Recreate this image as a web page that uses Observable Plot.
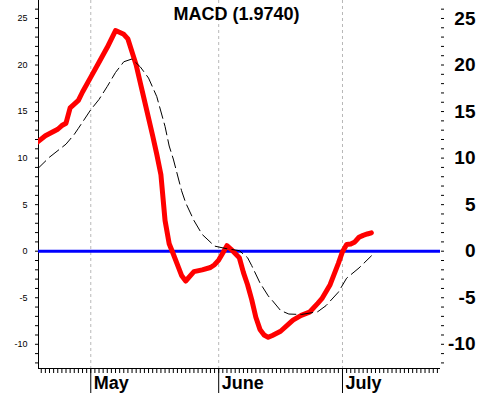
<!DOCTYPE html>
<html>
<head>
<meta charset="utf-8">
<script src="https://cdn.jsdelivr.net/npm/d3@7"></script>
<script src="https://cdn.jsdelivr.net/npm/@observablehq/plot@0.6"></script>
<style>
  html, body { margin: 0; padding: 0; background: #fff; }
  #chart svg { display: block; }
</style>
</head>
<body>
<div id="chart"></div>
<script>
// ---- Data ----
const titleText = "MACD (1.9740)";

const macdDates = [
  "2010-04-18","2010-04-20","2010-04-23","2010-04-24","2010-04-25","2010-04-26","2010-04-28","2010-04-29",
  "2010-05-01","2010-05-03","2010-05-05","2010-05-07","2010-05-09","2010-05-10","2010-05-11","2010-05-12",
  "2010-05-13","2010-05-14","2010-05-16","2010-05-17","2010-05-18","2010-05-19","2010-05-20","2010-05-21",
  "2010-05-23","2010-05-24","2010-05-26","2010-05-28","2010-05-30","2010-05-31",
  "2010-06-01","2010-06-02","2010-06-03","2010-06-04","2010-06-05","2010-06-06","2010-06-07","2010-06-08",
  "2010-06-09","2010-06-10","2010-06-11","2010-06-12","2010-06-13","2010-06-14","2010-06-16","2010-06-19",
  "2010-06-21","2010-06-23","2010-06-25","2010-06-26","2010-06-28","2010-06-30",
  "2010-07-01","2010-07-02","2010-07-03","2010-07-04","2010-07-05","2010-07-06","2010-07-07","2010-07-08"
];
const macdValues = [
  11.7, 12.4, 13.1, 13.5, 13.75, 15.4, 16.2, 17.1,
  18.7, 20.3, 21.9, 23.7, 23.3, 22.8, 21.4, 20.0,
  18.1, 16.2, 12.4, 10.4, 8.2, 3.3, 0.8, -0.3,
  -2.6, -3.2, -2.2, -2.0, -1.75, -1.45,
  -0.95, -0.2, 0.6, 0.2, -0.25, -0.7, -2.3, -3.6,
  -5.2, -7.1, -8.4, -9.0, -9.25, -9.05, -8.6, -7.4,
  -6.9, -6.55, -5.6, -5.1, -3.6, -1.3,
  -0.05, 0.72, 0.78, 1.0, 1.5, 1.7, 1.85, 1.974
];

const signalDates = [
  "2010-04-18","2010-04-21","2010-04-25","2010-04-27","2010-04-28",
  "2010-05-01","2010-05-03","2010-05-05","2010-05-07","2010-05-09","2010-05-11","2010-05-13","2010-05-15",
  "2010-05-17","2010-05-19","2010-05-20","2010-05-21","2010-05-23","2010-05-24","2010-05-26","2010-05-28",
  "2010-05-31","2010-06-03","2010-06-06","2010-06-08","2010-06-09","2010-06-11","2010-06-13","2010-06-14",
  "2010-06-16","2010-06-18","2010-06-21","2010-06-25","2010-06-27","2010-06-30",
  "2010-07-02","2010-07-05","2010-07-08"
];
const signalValues = [
  8.8, 10.1, 11.5, 12.55, 13.2,
  15.2, 16.3, 17.7, 19.2, 20.35, 20.65, 19.8, 18.6,
  16.6, 13.4, 11.3, 9.9, 6.5, 5.2, 3.3, 1.8,
  0.55, 0.26, 0.06, -0.7, -1.55, -3.4, -4.8, -5.3,
  -6.37, -6.75, -6.8, -6.5, -5.85, -4.4,
  -2.9, -1.8, -0.5
];

const monthDates = ["2010-05-01", "2010-06-01", "2010-07-01"];
const monthLabels = ["May", "June", "July"];
const yTickLabels = [-10, -5, 0, 5, 10, 15, 20, 25];

// ---- Build tables ----
const parse = s => new Date(s + "T00:00:00Z");
const macd = macdDates.map((d, i) => ({date: parse(d), value: macdValues[i]}));
const signal = signalDates.map((d, i) => ({date: parse(d), value: signalValues[i]}));
const months = monthDates.map((d, i) => ({date: parse(d), label: monthLabels[i]}));

const xDomain = [new Date(Date.UTC(2010, 3, 18, 8)), new Date(Date.UTC(2010, 6, 24, 18))];
const yDomain = [-12.6, 26.93];
const dayTicks = d3.utcDay.range(d3.utcDay.ceil(xDomain[0]), xDomain[1]);
const yMinorTicks = d3.range(-12, 27);
const labelSet = new Set(yTickLabels);

const chart = Plot.plot({
  width: 478,
  height: 393,
  marginLeft: 38,
  marginRight: 38,
  marginTop: 0,
  marginBottom: 25,
  style: {fontFamily: "'Liberation Sans', Arial, sans-serif", background: "#fff", overflow: "visible"},
  x: {type: "utc", domain: xDomain, label: null},
  y: {domain: yDomain, label: null},
  marks: [
    Plot.gridX(months, {x: "date", stroke: "#b8b8b8", strokeOpacity: 1, strokeDasharray: "3,3"}),
    // left axis
    Plot.axisY(yMinorTicks, {anchor: "left", label: null, tickSize: 3, tickPadding: 8, fontSize: 9,
      tickFormat: d => labelSet.has(d) ? String(d) : ""}),
    Plot.ruleX([xDomain[0]], {stroke: "#000"}),
    // right axis
    Plot.axisY(yMinorTicks, {anchor: "right", label: null, tickSize: 3, tickPadding: 32, textAnchor: "end",
      fontSize: 19, fontWeight: "bold", tickFormat: d => labelSet.has(d) ? String(d) : ""}),
    // bottom axis
    Plot.ruleY([yDomain[0]], {stroke: "#000"}),
    Plot.axisX(dayTicks, {anchor: "bottom", label: null, tickSize: 5, tickFormat: () => ""}),
    Plot.axisX(months.map(d => d.date), {anchor: "bottom", label: null, tickSize: 25, tickFormat: () => ""}),
    Plot.text(months, {x: "date", text: "label", frameAnchor: "bottom", textAnchor: "start",
      lineAnchor: "middle", dx: 3, dy: 14.5, fontSize: 18, fontWeight: "bold", fill: "#000"}),
    // zero line
    Plot.ruleY([0], {stroke: "#0000ff", strokeWidth: 3}),
    // MACD
    Plot.line(macd, {x: "date", y: "value", stroke: "#ff0000", strokeWidth: 5,
      strokeLinejoin: "round", clip: true}),
    // signal
    Plot.line(signal, {x: "date", y: "value", stroke: "#000", strokeWidth: 1,
      strokeDasharray: "12,5", clip: true}),
    // title
    Plot.text([titleText], {text: d => d, frameAnchor: "top", lineAnchor: "top", dx: -3, dy: 7,
      fontSize: 18, fontWeight: "bold", fill: "#000"})
  ]
});
document.getElementById("chart").appendChild(chart);
</script>
</body>
</html>
